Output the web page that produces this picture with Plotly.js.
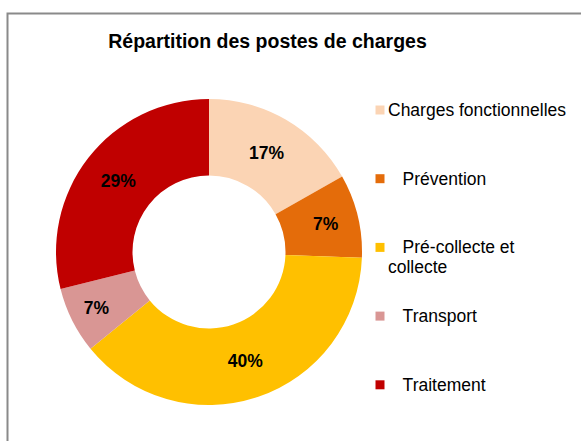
<!DOCTYPE html>
<html><head><meta charset="utf-8">
<script src="https://cdn.plot.ly/plotly-3.0.1.min.js"></script>
<style>html,body{margin:0;padding:0;background:#fff}#chart{width:581px;height:441px}</style>
</head><body><div id="chart"></div>
<script>
// ---- data ----
const categories = ["Charges fonctionnelles", "Prévention", "Pré-collecte et collecte", "Transport", "Traitement"];
const values = [16.8, 8.8, 38.5, 7.0, 28.9];
const valueLabels = ["17%", "7%", "40%", "7%", "29%"];
const legendLines = [["Charges fonctionnelles"], ["Prévention"], ["Pré-collecte et", "collecte"], ["Transport"], ["Traitement"]];
const legendIndent = [0, 3, 3, 3, 3];
const colors = ["#FBD4B4", "#E46C0A", "#FFC000", "#D99694", "#C00000"];

// ---- layout helpers ----
const W = 581, H = 441;
const px = x => x / W, py = y => 1 - y / H;
const FONT = "Liberation Sans, Arial, sans-serif";
const cx = 209, cy = 252, R = 153;

const trace = {
  type: "pie",
  labels: categories,
  values: values,
  text: valueLabels,
  textinfo: "text",
  textposition: "inside",
  insidetextorientation: "horizontal",
  textfont: {family: FONT, size: 17.5, color: "#000", weight: "bold"},
  hole: 0.5,
  sort: false,
  direction: "clockwise",
  rotation: 0,
  marker: {colors: colors, line: {width: 0}},
  domain: {x: [px(cx - R), px(cx + R)], y: [py(cy + R), py(cy - R)]},
  showlegend: false,
  hoverinfo: "label+text"
};

const shapes = [{
  type: "rect", xref: "paper", yref: "paper",
  x0: px(7.5), x1: px(W + 20), y0: py(H + 20), y1: py(13.5),
  line: {color: "#8a8a8a", width: 2}, fillcolor: "rgba(0,0,0,0)", layer: "below"
}];
const annotations = [];
const legY0 = 110, legStep = 68.7, legSq = 9, legMarkX = 380, legTextX = 386, lineGap = 20;
categories.forEach((c, i) => {
  const y = legY0 + i * legStep;
  shapes.push({
    type: "rect", xref: "paper", yref: "paper",
    x0: px(legMarkX - legSq / 2), x1: px(legMarkX + legSq / 2),
    y0: py(y + legSq / 2), y1: py(y - legSq / 2),
    line: {width: 0}, fillcolor: colors[i]
  });
  legendLines[i].forEach((line, j) => {
    annotations.push({
      xref: "paper", yref: "paper", x: px(legTextX), y: py(y + j * lineGap),
      xanchor: "left", yanchor: "middle", align: "left", showarrow: false,
      text: (j === 0 ? "\u00A0".repeat(legendIndent[i]) : "") + line,
      font: {family: FONT, size: 17.5, color: "#000"}
    });
  });
});

const layout = {
  width: W, height: H, autosize: false,
  margin: {l: 0, r: 0, t: 0, b: 0},
  paper_bgcolor: "#fff",
  title: {
    text: "<b>Répartition des postes de charges</b>",
    font: {family: FONT, size: 19.5, color: "#000"},
    xref: "paper", yref: "paper", x: px(267.5), xanchor: "center",
    y: py(41), yanchor: "middle"
  },
  shapes: shapes,
  annotations: annotations
};

Plotly.newPlot("chart", [trace], layout, {displayModeBar: false, staticPlot: true});
</script>
</body></html>
